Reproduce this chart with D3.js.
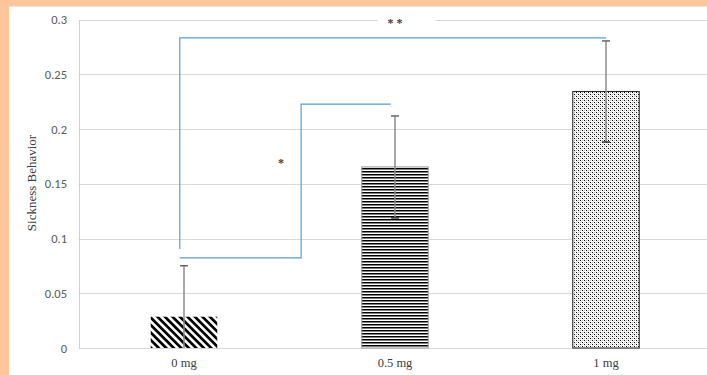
<!DOCTYPE html>
<html>
<head>
<meta charset="utf-8">
<script src="https://cdnjs.cloudflare.com/ajax/libs/d3/7.8.5/d3.min.js"></script>
<style>
  body { margin: 0; background: #fff; }
  svg { display: block; }
</style>
</head>
<body>
<div id="chart"></div>
<script>
// data
var categories = ["0 mg", "0.5 mg", "1 mg"];
var values = [0.0286, 0.1655, 0.2345];
var errors = [0.0466, 0.0466, 0.0462];
var patterns = ["diag", "horiz", "dots"];
var yTicks = [0, 0.05, 0.1, 0.15, 0.2, 0.25, 0.3];

// significance brackets: x in category index units, y in data units
var bracketOne = [[-0.02, 0.0823], [0.555, 0.0823], [0.555, 0.223], [0.98, 0.223]];
var bracketTwo = [[-0.02, 0.0905], [-0.02, 0.2834], [2.0, 0.2834]];
var starLabels = [
  {text: "*", x: 0.46, y: 0.165},
  {text: "* *", x: 1.0, y: 0.293}
];

var W = 707, H = 375;
var plotLeft = 78.5, plotRight = 711.5, plotTop = 19.8, plotBottom = 348;

var svg = d3.select("#chart").append("svg")
    .attr("width", W)
    .attr("height", H);

// orange frame at top / left
svg.append("rect").attr("x", 0).attr("y", 0).attr("width", W).attr("height", H).attr("fill", "#ffc59b");
svg.append("rect").attr("x", 9).attr("y", 6).attr("width", W - 9).attr("height", H - 6).attr("fill", "#fff");
svg.append("line").attr("x1", 9).attr("x2", W).attr("y1", 6.5).attr("y2", 6.5)
    .attr("stroke", "#e6e6e6").attr("stroke-width", 1);

var defs = svg.append("defs");

var pd = defs.append("pattern").attr("id", "diag")
    .attr("patternUnits", "userSpaceOnUse")
    .attr("width", 5.3).attr("height", 5.3)
    .attr("patternTransform", "rotate(45)");
pd.append("rect").attr("width", 5.3).attr("height", 5.3).attr("fill", "#fff");
pd.append("rect").attr("width", 5.3).attr("height", 2.7).attr("fill", "#000");

var ph = defs.append("pattern").attr("id", "horiz")
    .attr("patternUnits", "userSpaceOnUse")
    .attr("width", 4).attr("height", 3);
ph.append("rect").attr("width", 4).attr("height", 3).attr("fill", "#fff");
ph.append("rect").attr("width", 4).attr("height", 1.5).attr("fill", "#000");

var pdots = defs.append("pattern").attr("id", "dots")
    .attr("patternUnits", "userSpaceOnUse")
    .attr("width", 4).attr("height", 4);
pdots.append("rect").attr("width", 4).attr("height", 4).attr("fill", "#fff");
[[0, 0, "#000"], [2, 2, "#000"], [0, 2, "#b8b8b8"], [2, 0, "#b8b8b8"], [1, 1, "#dedede"], [3, 3, "#dedede"]]
  .forEach(function(d){
    pdots.append("rect").attr("x", d[0]).attr("y", d[1]).attr("width", 1).attr("height", 1).attr("fill", d[2]);
  });

var x = d3.scaleBand()
    .domain(categories)
    .range([plotLeft, plotRight])
    .paddingInner(0.685)
    .paddingOuter(0.3425);

var y = d3.scaleLinear()
    .domain([0, 0.3])
    .range([plotBottom, plotTop]);

var cx = function(i){ return x(categories[i]) + x.bandwidth() / 2; };
var xi = d3.scaleLinear().domain([0, 1]).range([cx(0), cx(1)]);

// gridlines
svg.append("g")
    .selectAll("line")
    .data(yTicks)
    .enter()
    .append("line")
    .attr("x1", plotLeft)
    .attr("x2", W)
    .attr("y1", function(d){ return Math.round(y(d)) + 0.5; })
    .attr("y2", function(d){ return Math.round(y(d)) + 0.5; })
    .attr("stroke", "#d9d9d9")
    .attr("stroke-width", 1);

// y axis line
svg.append("line")
    .attr("x1", 79.5).attr("x2", 79.5)
    .attr("y1", Math.round(y(0.3)) + 0.5).attr("y2", Math.round(y(0)) + 0.5)
    .attr("stroke", "#d0d0d0");

// tick labels
var yAxis = svg.append("g")
    .attr("transform", "translate(67,0)")
    .call(d3.axisLeft(y).tickValues(yTicks).tickSize(0).tickPadding(0).tickFormat(d3.format("")));
yAxis.select(".domain").remove();
yAxis.selectAll("text")
    .attr("font-family", "Carlito, 'Liberation Sans', Arial, sans-serif")
    .attr("font-size", "12.5px")
    .attr("fill", "#595959");

// bars
svg.append("g")
    .selectAll("rect")
    .data(values)
    .enter()
    .append("rect")
    .attr("x", function(d, i){ return x(categories[i]); })
    .attr("y", function(d){ return y(d); })
    .attr("width", x.bandwidth())
    .attr("height", function(d){ return y(0) - y(d); })
    .attr("fill", function(d, i){ return "url(#" + patterns[i] + ")"; })
    .attr("stroke", function(d, i){ return i == 2 ? "#222" : (i == 1 ? "#999" : "none"); })
    .attr("stroke-width", 1);

// error bars
var eg = svg.append("g").attr("class", "errors");
values.forEach(function(v, i){
    var lo = Math.max(0, v - errors[i]), hi = v + errors[i];
    var c = cx(i);
    eg.append("line")
        .attr("x1", c).attr("x2", c)
        .attr("y1", y(lo)).attr("y2", y(hi))
        .attr("stroke", "#8c8c8c").attr("stroke-width", 1.5);
    eg.append("line")
        .attr("x1", c - 4).attr("x2", c + 4)
        .attr("y1", y(hi)).attr("y2", y(hi))
        .attr("stroke", "#666").attr("stroke-width", 1.5);
    if (v - errors[i] > 0) {
        eg.append("line")
            .attr("x1", c - 4).attr("x2", c + 4)
            .attr("y1", y(lo)).attr("y2", y(lo))
            .attr("stroke", "#333").attr("stroke-width", 1.5);
    }
});

// significance brackets
var bline = d3.line()
    .x(function(d){ return xi(d[0]); })
    .y(function(d){ return y(d[1]); });

[bracketOne, bracketTwo].forEach(function(b){
    svg.append("path")
        .attr("d", bline(b))
        .attr("fill", "none")
        .attr("stroke", "#5b9bd5")
        .attr("stroke-width", 1.2);
});

// white box behind the ** label
svg.append("rect")
    .attr("x", xi(starLabels[1].x) - 17)
    .attr("y", y(0.3) - 5)
    .attr("width", 57)
    .attr("height", 16)
    .attr("fill", "#fff");

svg.append("g")
    .selectAll("text")
    .data(starLabels)
    .enter()
    .append("text")
    .attr("x", function(d){ return xi(d.x); })
    .attr("y", function(d){ return y(d.y); })
    .attr("text-anchor", "middle")
    .attr("font-family", "'Liberation Serif', 'Times New Roman', serif")
    .attr("font-size", "12px")
    .attr("font-weight", "bold")
    .attr("fill", "#4a3a30")
    .text(function(d){ return d.text; });

// category labels
svg.append("g")
    .selectAll("text")
    .data(categories)
    .enter()
    .append("text")
    .attr("x", function(d){ return x(d) + x.bandwidth() / 2; })
    .attr("y", 367)
    .attr("text-anchor", "middle")
    .attr("font-family", "'Liberation Serif', 'Times New Roman', serif")
    .attr("font-size", "12.5px")
    .attr("fill", "#404040")
    .text(function(d){ return d; });

// y axis title
svg.append("text")
    .attr("transform", "translate(36,183) rotate(-90)")
    .attr("text-anchor", "middle")
    .attr("font-family", "'Liberation Serif', 'Times New Roman', serif")
    .attr("font-size", "13px")
    .attr("fill", "#404040")
    .text("Sickness Behavior");
</script>
</body>
</html>
